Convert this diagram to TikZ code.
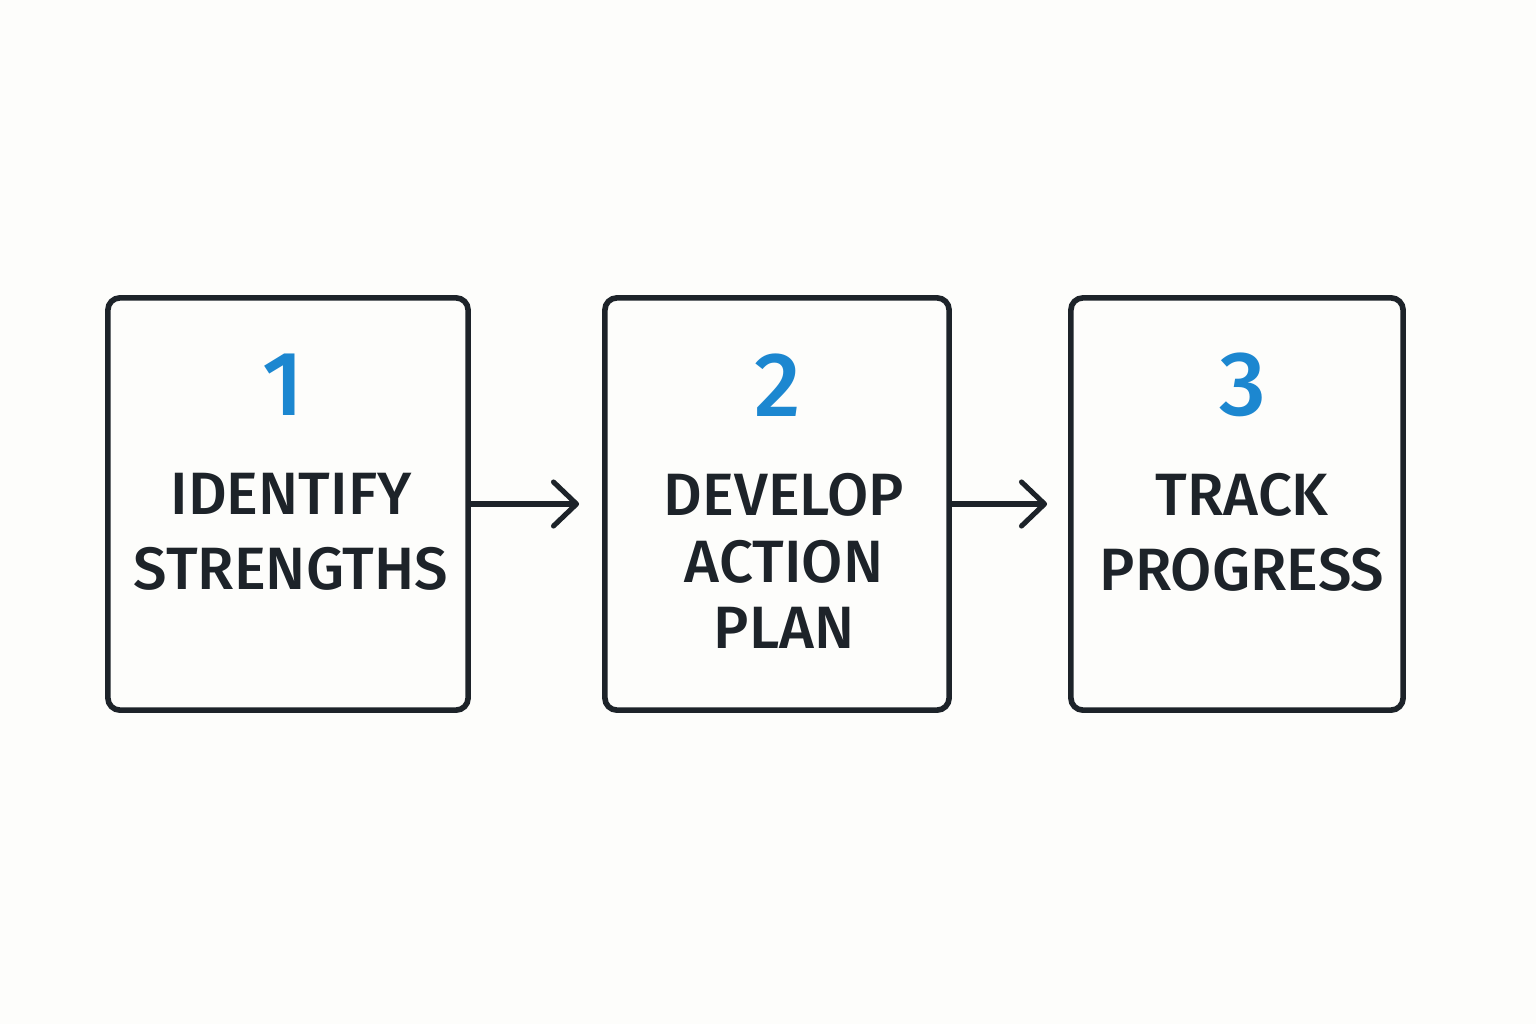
\documentclass[tikz,border=0pt]{standalone}
\usepackage{xcolor}
\usepackage{fontspec}
\setmainfont{Fira Sans Medium}
\usetikzlibrary{arrows.meta}
\definecolor{inkdark}{HTML}{1D2329}
\definecolor{stepblue}{HTML}{1C87D0}
\definecolor{paper}{HTML}{FDFDFB}

\begin{document}
\begin{tikzpicture}[x=0.01cm, y=-0.01cm,
        stepbox/.style={draw=inkdark, line width=1.6pt, rounded corners=0.12cm, minimum height=4.12cm},
        stepnum/.style={text=stepblue, font=\fontsize{26}{30}\selectfont},
        steplabel/.style={text=inkdark, align=center, font=\fontsize{17}{21.3}\selectfont},
        flow/.style={draw=inkdark, line width=1.45pt, line cap=round, -{Straight Barb[length=0.23cm, width=0.44cm, line cap=round, line join=round]}}]
        % Background
        \fill [paper] (0,0) rectangle (1536,1024);
        \useasboundingbox (0,0) rectangle (1536,1024);

        % Nodes for the three steps
        \node [stepbox, minimum width=3.60cm] (identify) at (288,504) {};
        \node [stepbox, minimum width=3.44cm] (develop) at (777,504) {};
        \node [stepbox, minimum width=3.32cm] (track) at (1237,504) {};

        \node [stepnum] (num1) at (283,385) {1};
        \node [stepnum] (num2) at (778,385) {2};
        \node [stepnum] (num3) at (1243,385) {3};

        \node [steplabel] (lab1) at (291,532) {IDENTIFY\\STRENGTHS};
        \node [steplabel, font=\fontsize{17}{19}\selectfont] (lab2) at (784,561) {DEVELOP\\ACTION\\PLAN};
        \node [steplabel] (lab3) at (1242,532) {TRACK\\PROGRESS};

        % Arrows between steps
        \draw [flow, shorten >=0.23cm] (identify) -- (develop);
        \draw [flow, shorten >=0.21cm] (develop) -- (track);
\end{tikzpicture}
\end{document}
